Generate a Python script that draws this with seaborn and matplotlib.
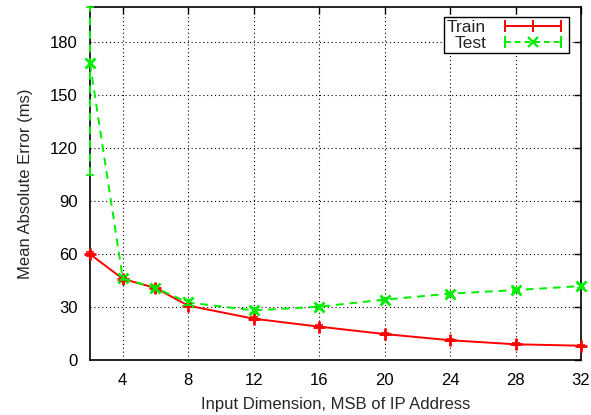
import matplotlib
matplotlib.use("Agg")
import matplotlib.pyplot as plt
import seaborn as sns
import pandas as pd
from matplotlib.lines import Line2D
from matplotlib.legend_handler import HandlerLine2D, HandlerTuple

dims = [2, 4, 6, 8, 12, 16, 20, 24, 28, 32]
train_mae = [60, 46, 40.8, 30.8, 23.4, 18.9, 14.7, 11.2, 8.9, 8.1]
test_mae = [168, 46.3, 40.8, 32.6, 28.1, 30.2, 34.2, 37.6, 39.6, 41.9]
train_err = [1.0, 1.0, 1.0, 1.0, 0.8, 0.8, 0.8, 0.6, 0.6, 0.6]
test_lo = [63, 1.2, 1.2, 1.2, 1.2, 1.2, 1.2, 1.2, 1.2, 1.2]
test_hi = [32, 1.2, 1.2, 1.2, 1.2, 1.2, 1.2, 1.2, 1.2, 1.2]
xticks = [4, 8, 12, 16, 20, 24, 28, 32]
yticks = [0, 30, 60, 90, 120, 150, 180]

sns.set_theme(style="white")
plt.rcParams['font.family'] = ['Liberation Sans', 'DejaVu Sans']

df = pd.DataFrame({"dim": dims * 2,
                   "mae": train_mae + test_mae,
                   "set": ["Train"] * len(dims) + ["Test"] * len(dims)})

fig = plt.figure(figsize=(5.91, 4.15), dpi=100)
ax = fig.add_axes([90/591, 1 - 360/415, (581-90)/591, (360-7)/415])

red = "#ff0000"
green = "#00ee00"
dash = (0, (4, 3))

sns.lineplot(data=df[df.set == "Train"], x="dim", y="mae", ax=ax, color=red,
             lw=1.4, marker="+", markersize=9, mew=2, mec=red, legend=False,
             clip_on=False, zorder=5)
sns.lineplot(data=df[df.set == "Test"], x="dim", y="mae", ax=ax, color=green,
             lw=1.4, marker="x", markersize=7, mew=2, mec=green, legend=False,
             linestyle=dash, clip_on=False, zorder=5)
eb1 = ax.errorbar(dims, train_mae, yerr=train_err, fmt="none", ecolor=red,
                  elinewidth=1.2, capsize=3, capthick=1.2, zorder=5)
eb = ax.errorbar(dims, test_mae, yerr=[test_lo, test_hi], fmt="none", ecolor=green,
                 elinewidth=1.4, capsize=3, capthick=1.2, zorder=5)
for c in eb.lines[2]:
    c.set_linestyle(dash)
for e in (eb1, eb):
    for art in list(e.lines[1]) + list(e.lines[2]):
        art.set_clip_on(False)

ax.set_xlim(2, 32)
ax.set_ylim(0, 200)
ax.set_xticks(xticks)
ax.set_yticks(yticks)
ax.grid(True, color="black", linestyle=(0, (1, 2.5)), lw=0.8)
ax.tick_params(direction="in", length=5, width=1, top=True, right=True,
               labelsize=12, colors="black", pad=9)
for s in ax.spines.values():
    s.set_color("black")
    s.set_linewidth(1.2)
    s.set_zorder(4)
ax.set_xlabel("Input Dimension, MSB of IP Address", fontsize=12, labelpad=7)
ax.set_ylabel("Mean Absolute Error (ms)", fontsize=12, labelpad=12)

tr_line = Line2D([], [], color=red, lw=1.4, marker="|", markersize=9, mew=1.4)
tr_mark = Line2D([], [], color=red, linestyle="none", marker="|", markersize=9, mew=1.4)
te_line = Line2D([], [], color=green, lw=1.4, marker="|", markersize=9, mew=1.4,
                 linestyle=(0, (3, 2)))
te_mark = Line2D([], [], color=green, linestyle="none", marker="x", markersize=7, mew=1.6)
hmap = {tr_line: HandlerLine2D(numpoints=2), te_line: HandlerLine2D(numpoints=2),
        tr_mark: HandlerLine2D(numpoints=1), te_mark: HandlerLine2D(numpoints=1)}
leg = ax.legend([(tr_line, tr_mark), (te_line, te_mark)], ["Train", "Test"],
                handler_map={tuple: HandlerTuple(ndivide=1, pad=0), **hmap},
                loc="upper right",
                bbox_to_anchor=(0.982, 0.982), markerfirst=False, fontsize=12.5,
                frameon=True, fancybox=False, framealpha=1, edgecolor="black",
                borderpad=0.15, handlelength=3.8, labelspacing=0.05,
                handletextpad=0.8, borderaxespad=0.2)
leg.get_frame().set_linewidth(1.0)
leg.set_zorder(6)

fig.savefig("out.png", dpi=100)
